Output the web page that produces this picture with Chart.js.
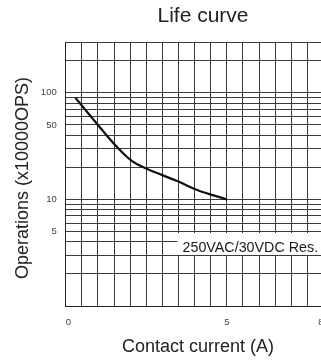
<!DOCTYPE html>
<html lang="en">
<head>
    <meta charset="UTF-8">
    <title>Life curve</title>
    <script src="https://cdn.jsdelivr.net/npm/chart.js"></script>
    <style>
        html, body {
            margin: 0;
            padding: 0;
            background: #fff;
            overflow: hidden;
            width: 321px;
            height: 363px;
        }
        #wrap {
            width: 340px;
            height: 363px;
        }
    </style>
</head>
<body>
    <div id="wrap">
        <canvas id="lifeChart" width="340" height="363"></canvas>
    </div>

    <script>
        // contact current (A) vs operations (x10000 ops)
        const currentA = [0.3, 1.0, 1.55, 2.05, 2.5, 3.5, 4.1, 5.0];
        const opsX10k = [90, 50, 32, 23, 19.5, 14.7, 12.2, 10];

        // grid / tick values
        const yGridValues = [1, 2, 3, 4, 5, 6, 7, 8, 9, 10, 20, 30, 40, 50, 60, 70, 80, 90, 100, 200, 300];
        const yLabelValues = [5, 10, 50, 100];
        const xLabelValues = [0, 5, 8];

        const chartTitle = 'Life curve';
        const xTitle = 'Contact current (A)';
        const yTitle = 'Operations (x10000OPS)';
        const noteText = '250VAC/30VDC Res.';

        const fontFamily = '"Liberation Sans", Arial, sans-serif';

        // titles and the note box are drawn on top of the grid
        const textPlugin = {
            id: 'textPlugin',
            afterDraw(chart) {
                const ctx = chart.ctx;
                const area = chart.chartArea;
                ctx.save();

                // note box (white, hides the grid)
                ctx.fillStyle = '#fff';
                ctx.fillRect(177.5, 233, area.right - 177.5, 22);
                ctx.fillStyle = '#1a1a1a';
                ctx.font = '14.3px ' + fontFamily;
                ctx.textAlign = 'left';
                ctx.textBaseline = 'alphabetic';
                ctx.fillText(noteText, 182.5, 251.5);

                // chart title
                ctx.font = '21px ' + fontFamily;
                ctx.textAlign = 'center';
                ctx.textBaseline = 'middle';
                ctx.fillStyle = '#222';
                ctx.fillText(chartTitle, 203, 16);

                // x axis title
                ctx.font = '18px ' + fontFamily;
                ctx.fillText(xTitle, 198, 347);

                // y axis title
                ctx.translate(23, 178);
                ctx.rotate(-Math.PI / 2);
                ctx.fillText(yTitle, 0, 0);

                ctx.restore();
            }
        };

        const ctx = document.getElementById('lifeChart').getContext('2d');
        const lifeChart = new Chart(ctx, {
            type: 'line',
            data: {
                datasets: [{
                    label: 'Life',
                    data: currentA.map((x, i) => ({ x: x, y: opsX10k[i] })),
                    borderColor: '#111',
                    borderWidth: 2.2,
                    pointRadius: 0,
                    fill: false,
                    tension: 0.4
                }]
            },
            options: {
                responsive: false,
                animation: false,
                layout: {
                    padding: { left: 0, right: 16.5, top: 42, bottom: 0 }
                },
                plugins: {
                    legend: { display: false },
                    title: { display: false },
                    tooltip: { enabled: false }
                },
                scales: {
                    x: {
                        type: 'linear',
                        min: 0,
                        max: 8,
                        afterFit: scale => { scale.height = 57; },
                        ticks: {
                            stepSize: 0.5,
                            autoSkip: false,
                            maxRotation: 0,
                            align: 'inner',
                            padding: 11,
                            color: '#444',
                            font: { family: fontFamily, size: 9.5 },
                            callback: v => xLabelValues.includes(v) ? String(v) : ''
                        },
                        grid: {
                            color: '#3a3a3a',
                            lineWidth: 1,
                            drawTicks: false
                        },
                        border: { color: '#222', width: 1 }
                    },
                    y: {
                        type: 'logarithmic',
                        min: 1,
                        max: 300,
                        afterFit: scale => { scale.width = 65.7; },
                        afterBuildTicks: scale => {
                            scale.ticks = yGridValues.map(v => ({ value: v }));
                        },
                        ticks: {
                            autoSkip: false,
                            padding: 9,
                            color: '#444',
                            font: { family: fontFamily, size: 9.5 },
                            callback: v => yLabelValues.includes(v) ? String(v) : ''
                        },
                        grid: {
                            color: '#3a3a3a',
                            lineWidth: 1,
                            drawTicks: false
                        },
                        border: { color: '#222', width: 1 }
                    }
                }
            },
            plugins: [textPlugin]
        });
    </script>
</body>
</html>
